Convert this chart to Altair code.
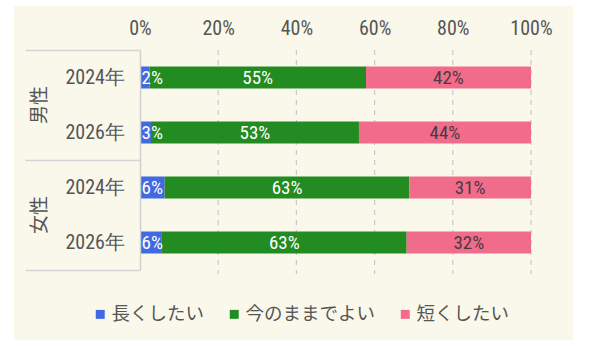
import altair as alt
import pandas as pd

# Survey: preferred length of working hours, by gender and year (%)
genders = ["男性", "女性"]
years = ["2024年", "2026年"]
answers = ["長くしたい", "今のままでよい", "短くしたい"]
colors = ["#4169E1", "#228B22", "#F06C8A"]

longer = [2.4, 2.8, 6.3, 5.6]
same = [55.4, 53.2, 62.6, 62.6]
shorter = [42.2, 44.0, 31.1, 31.8]

tick_values = [0, 20, 40, 60, 80, 100]

NUM_FONT = "Roboto Condensed, Roboto, sans-serif"
JP_FONT = "Noto Sans CJK JP"

# long-form table with stacked extents
rows = []
i = 0
for g in genders:
    for y in years:
        start = 0.0
        for a, v in zip(answers, [longer[i], same[i], shorter[i]]):
            rows.append({
                "gender": g, "year": y, "answer": a, "value": v,
                "start": start, "end": start + v, "mid": start + v / 2,
                "label": f"{round(v)}%",
            })
            start += v
        i += 1
df = pd.DataFrame(rows)

row_df = pd.DataFrame([{"gender": g, "year": y} for g in genders for y in years])
gender_df = pd.DataFrame({"gender": genders})
tick_df = pd.DataFrame({"tick": tick_values})

x_scale = alt.Scale(domain=[0, 100], nice=False)
y_enc = alt.Y(
    "gender:N", sort=genders, title=None,
    scale=alt.Scale(paddingInner=0, paddingOuter=0),
    axis=alt.Axis(labels=False, bandPosition=1, tickExtra=True, tickSize=115,
                  tickColor="#d4d4d4", domainColor="#cfcfcf", tickWidth=1.5,
                  domainWidth=1.5, zindex=1),
)
yoff_enc = alt.YOffset("year:N", sort=years,
                       scale=alt.Scale(paddingInner=0.6, paddingOuter=0.3))

# cream panel behind everything
bg = alt.Chart(pd.DataFrame({"k": [0]})).mark_rect(color="#FAF8EB").encode(
    x=alt.value(-126), x2=alt.value(433), y=alt.value(-44), y2=alt.value(290)
)

grid = alt.Chart(tick_df).transform_filter("datum.tick > 0").mark_rule(
    color="#c8c8c8", strokeDash=[5, 5], strokeWidth=1.2
).encode(
    x=alt.X("tick:Q", scale=x_scale),
    y=alt.value(0), y2=alt.value(224),
)

bars = alt.Chart(df).mark_bar().encode(
    x=alt.X("start:Q", scale=x_scale, title=None,
            axis=alt.Axis(orient="top", values=tick_values, grid=False, domain=False,
                          ticks=False, labelFlush=False, labelExpr="datum.value + '%'",
                          labelFont=NUM_FONT, labelFontSize=20, labelColor="#555555",
                          labelPadding=12, zindex=1)),
    x2="end:Q",
    y=y_enc,
    yOffset=yoff_enc,
    color=alt.Color("answer:N", sort=answers,
                    scale=alt.Scale(domain=answers, range=colors),
                    legend=alt.Legend(title=None, orient="none", direction="horizontal",
                                      legendX=-49, legendY=255,
                                      symbolType="square", symbolSize=80,
                                      symbolStrokeWidth=0, symbolOpacity=1,
                                      labelFont=JP_FONT, labelFontSize=18.5,
                                      labelColor="#555555", labelOffset=2,
                                      columnPadding=20, zindex=1)),
)

lbl_long = alt.Chart(df).transform_filter(
    alt.datum.answer == answers[0]
).mark_text(align="left", baseline="middle", dx=1.5, font=NUM_FONT,
            fontSize=19, color="white").encode(
    x=alt.X("start:Q", scale=x_scale), y=y_enc, yOffset=yoff_enc, text="label:N"
)

lbl_same = alt.Chart(df).transform_filter(
    alt.datum.answer == answers[1]
).mark_text(align="center", baseline="middle", font=NUM_FONT, fontSize=19,
            color="white").encode(
    x=alt.X("mid:Q", scale=x_scale), y=y_enc, yOffset=yoff_enc, text="label:N"
)

lbl_short = alt.Chart(df).transform_filter(
    alt.datum.answer == answers[2]
).mark_text(align="center", baseline="middle", font=NUM_FONT, fontSize=19,
            color="#4a3a44").encode(
    x=alt.X("mid:Q", scale=x_scale), y=y_enc, yOffset=yoff_enc, text="label:N"
)

year_lbl = alt.Chart(row_df).mark_text(
    align="right", baseline="middle", font=NUM_FONT, fontSize=20, color="#555555"
).encode(x=alt.value(-15), y=y_enc, yOffset=yoff_enc, text="year:N")

gender_lbl = alt.Chart(gender_df).mark_text(
    align="center", baseline="middle", angle=270, font=JP_FONT, fontSize=19,
    color="#555555"
).encode(x=alt.value(-100), y=y_enc, text="gender:N")

chart = alt.layer(
    bg, grid, bars, lbl_long, lbl_same, lbl_short, year_lbl, gender_lbl
).properties(
    width=391, height=220,
    autosize=alt.AutoSizeParams(type="none"),
    padding={"left": 140, "top": 50, "right": 59, "bottom": 79},
    background="white",
).configure_view(stroke=None)

chart.save("out.html", embed_options={"renderer": "svg", "actions": False})
